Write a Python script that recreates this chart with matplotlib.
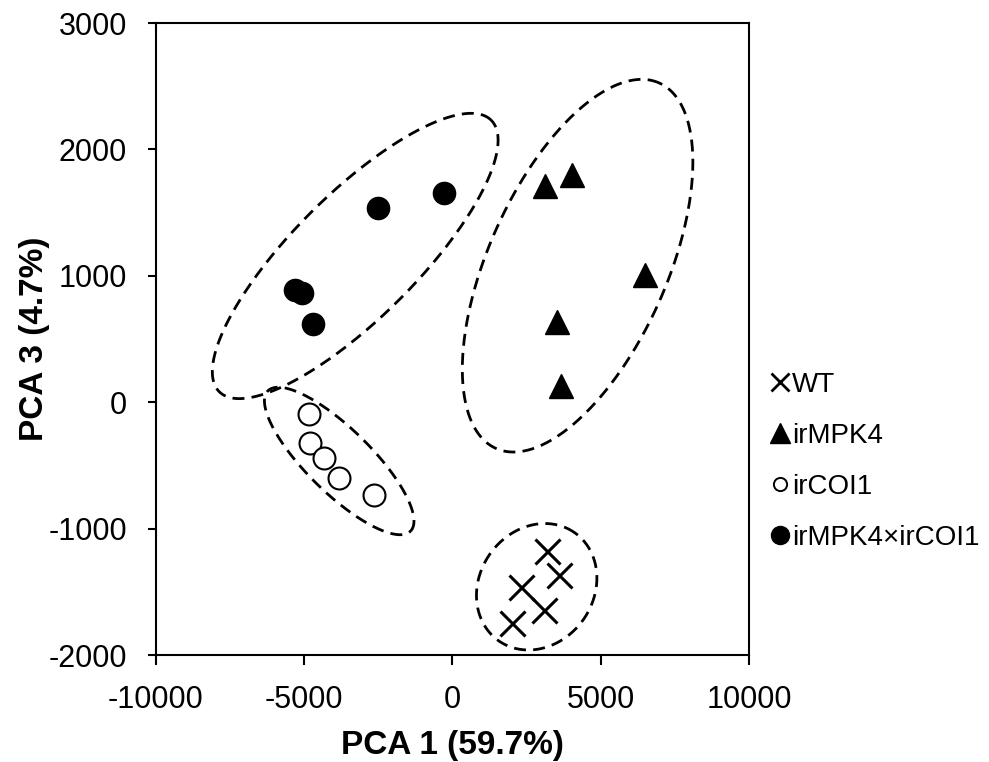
import numpy as np
import matplotlib
matplotlib.use("Agg")
import matplotlib.pyplot as plt
from matplotlib.lines import Line2D

plt.rcParams['font.family'] = ['Liberation Sans', 'DejaVu Sans']
plt.rcParams['axes.unicode_minus'] = False

# PCA scores
wt_x = [3200, 3590, 2300, 3090, 2020]
wt_y = [-1180, -1370, -1465, -1645, -1745]
mpk4_x = [3120, 4040, 6490, 3540, 3650]
mpk4_y = [1710, 1800, 1010, 635, 125]
coi1_x = [-4850, -4800, -4320, -3820, -2660]
coi1_y = [-90, -325, -445, -600, -735]
cross_x = [-270, -2500, -5300, -5080, -4720]
cross_y = [1655, 1535, 885, 865, 615]

# group ellipses: centre, half-axis vector 1, half-axis vector 2 (data units)
ell_wt = (2840, -1460, 1280, 428, -1577, 259)
ell_mpk4 = (4220, 1080, 2750, 1446, -2748, 287)
ell_coi1 = (-3820, -465, 2405, -555, 759, 180)
ell_cross = (-3280, 1157, 4586, 1074, -1481, 347)

labels = ["WT", "irMPK4", "irCOI1", "irMPK4\u00d7irCOI1"]

fig = plt.figure(figsize=(9.89, 7.62), dpi=100)
ax = fig.add_axes([0.1577, 0.1404, 0.5996, 0.8294])

t = np.linspace(0, 2 * np.pi, 400)
for e in [ell_cross, ell_coi1, ell_mpk4, ell_wt]:
    cx, cy, ux, uy, vx, vy = e
    ax.plot(cx + ux * np.cos(t) + vx * np.sin(t),
            cy + uy * np.cos(t) + vy * np.sin(t),
            color="black", lw=2.0, linestyle=(0, (4.3, 2.6)), zorder=1)

ax.plot(wt_x, wt_y, ls="none", marker="x", ms=18, mew=2.2, color="black", zorder=3)
ax.plot(mpk4_x, mpk4_y, ls="none", marker="^", ms=17, color="black", zorder=3)
ax.plot(coi1_x, coi1_y, ls="none", marker="o", ms=15.8, mfc="white", mec="black", mew=1.5, zorder=3)
ax.plot(cross_x, cross_y, ls="none", marker="o", ms=16, color="black", zorder=3)

ax.set_xlim(-10000, 10000)
ax.set_ylim(-2000, 3000)
ax.set_xticks(np.arange(-10000, 10001, 5000))
ax.set_yticks(np.arange(-2000, 3001, 1000))
for s in ax.spines.values():
    s.set_linewidth(1.5)
ax.tick_params(axis="both", direction="out", width=1.5, labelsize=22)
ax.tick_params(axis="y", length=6, pad=15)
ax.tick_params(axis="x", length=7.5, pad=14)
ax.set_xlabel("PCA 1 (59.7%)", fontsize=24, fontweight="bold", labelpad=11)
ax.set_ylabel("PCA 3 (4.7%)", fontsize=24, fontweight="bold", labelpad=-1)

handles = [
    Line2D([], [], ls="none", marker="x", ms=13.5, mew=2.0, color="black"),
    Line2D([], [], ls="none", marker="^", ms=15, color="black"),
    Line2D([], [], ls="none", marker="o", ms=9.5, mfc="white", mec="black", mew=1.4),
    Line2D([], [], ls="none", marker="o", ms=13, color="black"),
]
fig.legend(handles, labels, loc="upper left", bbox_to_anchor=(0.7786, 0.512),
           frameon=False, fontsize=20, handlelength=0.7, handletextpad=0.1,
           labelspacing=0.9, borderpad=0, borderaxespad=0)

fig.savefig("out.png", dpi=100)
